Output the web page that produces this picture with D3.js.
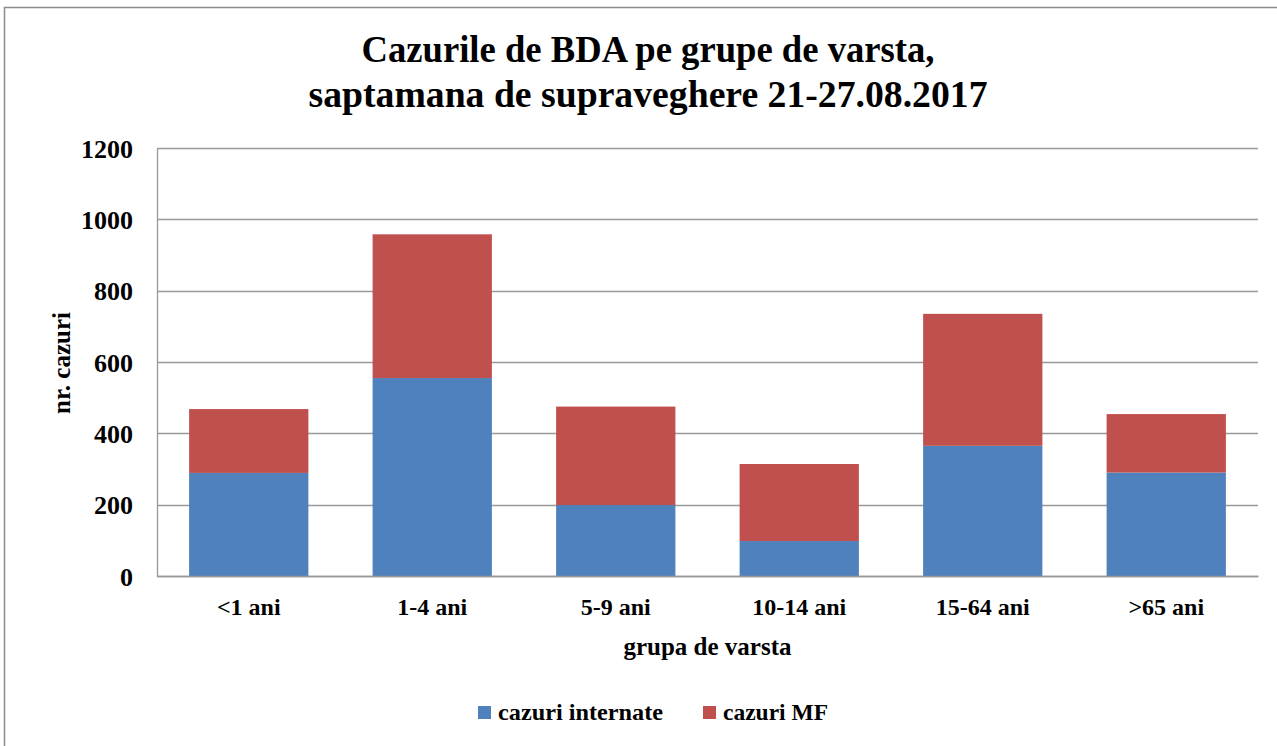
<!DOCTYPE html>
<html>
<head>
<meta charset="utf-8">
<script src="https://cdn.jsdelivr.net/npm/d3@7"></script>
<style>
  body { margin: 0; background: #fff; }
  text { font-family: "Liberation Serif", "Times New Roman", serif; font-weight: bold; fill: #000; }
</style>
</head>
<body>
<svg id="chart"></svg>
<script>
// data
const groups = ["<1 ani", "1-4 ani", "5-9 ani", "10-14 ani", "15-64 ani", ">65 ani"];
const internate = [289, 555, 199, 98, 365, 290];
const medicFamilie = [179, 403, 276, 216, 370, 164];
const seriesNames = ["cazuri internate", "cazuri MF"];
const yTicks = [0, 200, 400, 600, 800, 1000, 1200];

const colors = ["#4F81BD", "#C0504D"];

const width = 1277, height = 746;
const margin = { top: 148, right: 19, bottom: 170, left: 157 };
const innerW = width - margin.left - margin.right;
const innerH = height - margin.top - margin.bottom;

const svg = d3.select("#chart")
  .attr("width", width)
  .attr("height", height);

// outer frame of the chart object
svg.append("rect")
  .attr("x", 4.5).attr("y", 7.5)
  .attr("width", width + 10).attr("height", height + 10)
  .attr("fill", "none")
  .attr("stroke", "#8c8c8c")
  .attr("stroke-width", 1.5);

const rows = groups.map((g, i) => ({ group: g, internate: internate[i], mf: medicFamilie[i] }));
const stacked = d3.stack().keys(["internate", "mf"])(rows);

const x = d3.scaleBand()
  .domain(groups)
  .range([0, innerW])
  .paddingInner(0.35)
  .paddingOuter(0.175);

const y = d3.scaleLinear()
  .domain([0, 1200])
  .range([innerH, 0]);

const chart = svg.append("g")
  .attr("transform", `translate(${margin.left},${margin.top})`);

// gridlines
chart.append("g")
  .selectAll("line")
  .data(yTicks)
  .join("line")
  .attr("x1", 0).attr("x2", innerW)
  .attr("y1", d => Math.round(y(d)) + 0.5)
  .attr("y2", d => Math.round(y(d)) + 0.5)
  .attr("stroke", "#999")
  .attr("stroke-width", 1.3);

// bars
chart.append("g")
  .selectAll("g")
  .data(stacked)
  .join("g")
  .attr("fill", (d, i) => colors[i])
  .selectAll("rect")
  .data(d => d)
  .join("rect")
  .attr("x", d => x(d.data.group))
  .attr("width", x.bandwidth())
  .attr("y", d => y(d[1]))
  .attr("height", d => y(d[0]) - y(d[1]));

// y axis
const yAxis = d3.axisLeft(y)
  .tickValues(yTicks)
  .tickFormat(d3.format("d"))
  .tickSize(0)
  .tickPadding(24);
const yAxisG = chart.append("g").call(yAxis);
yAxisG.select(".domain").attr("stroke", "#999").attr("stroke-width", 1.3);
yAxisG.selectAll("text")
  .style("font-family", '"Liberation Serif", serif')
  .style("font-weight", "bold")
  .style("font-size", "26px")
  .attr("dy", "0.35em");

// x axis
const xAxis = d3.axisBottom(x).tickSize(0).tickPadding(22);
const xAxisG = chart.append("g")
  .attr("transform", `translate(0,${innerH})`)
  .call(xAxis);
xAxisG.select(".domain").attr("stroke", "#999").attr("stroke-width", 1.3);
xAxisG.selectAll("text")
  .style("font-family", '"Liberation Serif", serif')
  .style("font-weight", "bold")
  .style("font-size", "24px");

// titles
svg.append("text")
  .attr("x", 648).attr("y", 62)
  .attr("text-anchor", "middle")
  .attr("textLength", 573)
  .attr("lengthAdjust", "spacingAndGlyphs")
  .style("font-size", "38px")
  .text("Cazurile de BDA pe grupe de varsta,");

svg.append("text")
  .attr("x", 648).attr("y", 107)
  .attr("text-anchor", "middle")
  .attr("textLength", 679)
  .attr("lengthAdjust", "spacingAndGlyphs")
  .style("font-size", "38px")
  .text("saptamana de supraveghere 21-27.08.2017");

svg.append("text")
  .attr("transform", "translate(70,363) rotate(-90)")
  .attr("text-anchor", "middle")
  .style("font-size", "25px")
  .text("nr. cazuri");

svg.append("text")
  .attr("x", margin.left + innerW / 2).attr("y", 655)
  .attr("text-anchor", "middle")
  .style("font-size", "25px")
  .text("grupa de varsta");

// legend
const legendX = [478, 703];
const legendW = [165, 105];
const legend = svg.append("g")
  .selectAll("g")
  .data(seriesNames)
  .join("g")
  .attr("transform", (d, i) => `translate(${legendX[i]},706)`);
legend.append("rect")
  .attr("width", 13).attr("height", 13)
  .attr("fill", (d, i) => colors[i]);
legend.append("text")
  .attr("x", 20).attr("y", 14)
  .attr("textLength", (d, i) => legendW[i])
  .attr("lengthAdjust", "spacingAndGlyphs")
  .style("font-size", "23px")
  .text(d => d);
</script>
</body>
</html>
